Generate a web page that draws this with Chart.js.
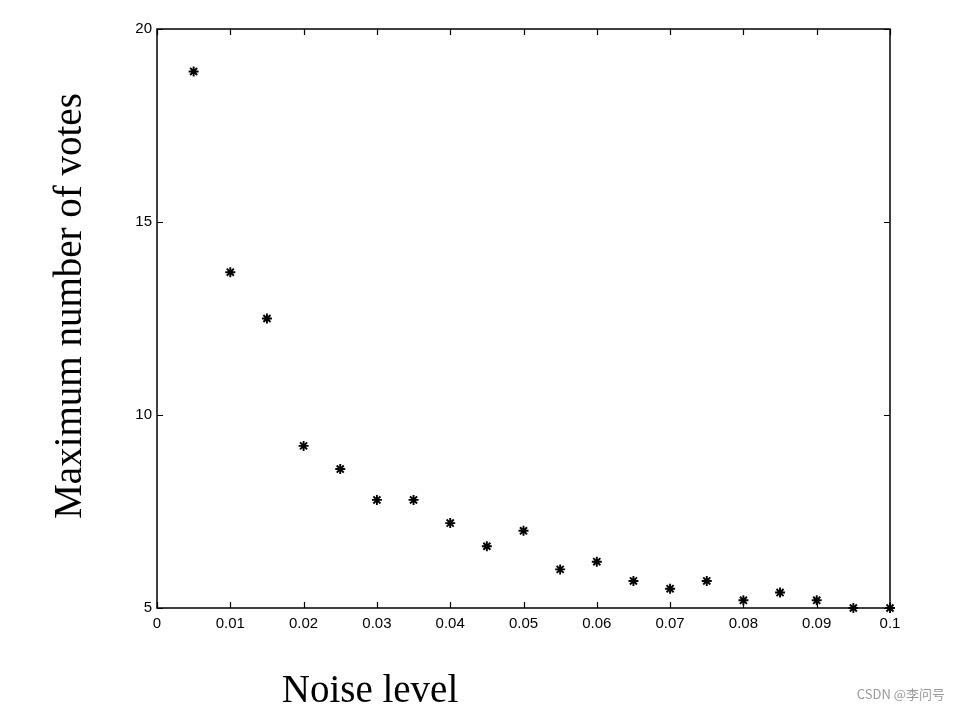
<!DOCTYPE html>
<html>
<head>
<meta charset="utf-8">
<script src="https://cdn.jsdelivr.net/npm/chart.js@4.4.1/dist/chart.umd.min.js"></script>
<style>
html,body{margin:0;padding:0;background:#fff;}
#wrap{width:960px;height:711px;position:relative;}
</style>
</head>
<body>
<div id="wrap"><canvas id="c" width="960" height="711"></canvas></div>
<script>
const noiseLevels = [0.005,0.01,0.015,0.02,0.025,0.03,0.035,0.04,0.045,0.05,0.055,0.06,0.065,0.07,0.075,0.08,0.085,0.09,0.095,0.1];
const maxVotes    = [18.9,13.7,12.5,9.2,8.6,7.8,7.8,7.2,6.6,7.0,6.0,6.2,5.7,5.5,5.7,5.2,5.4,5.2,5.0,5.0];
const xTickValues = [0,0.01,0.02,0.03,0.04,0.05,0.06,0.07,0.08,0.09,0.1];
const xTickLabels = ['0','0.01','0.02','0.03','0.04','0.05','0.06','0.07','0.08','0.09','0.1'];
const yTickValues = [5,10,15,20];
const yTickLabels = ['5','10','15','20'];
const xTitle = 'Noise level';
const yTitle = 'Maximum number of votes';
const watermark = 'CSDN @李问号';

const frame = {
  id: 'frame',
  afterDraw(chart) {
    const {ctx, chartArea: a, scales: {x, y}} = chart;
    ctx.save();
    ctx.strokeStyle = '#000';
    ctx.lineWidth = 1.5;
    ctx.strokeRect(a.left, a.top, a.right - a.left, a.bottom - a.top);
    ctx.lineWidth = 1.2;
    const tl = 6;
    ctx.beginPath();
    xTickValues.forEach(v => {
      const px = Math.round(x.getPixelForValue(v)) + 0.5;
      ctx.moveTo(px, a.bottom); ctx.lineTo(px, a.bottom - tl);
      ctx.moveTo(px, a.top); ctx.lineTo(px, a.top + tl);
    });
    yTickValues.forEach(v => {
      const py = Math.round(y.getPixelForValue(v)) + 0.5;
      ctx.moveTo(a.left, py); ctx.lineTo(a.left + tl, py);
      ctx.moveTo(a.right, py); ctx.lineTo(a.right - tl, py);
    });
    ctx.stroke();
    // axis titles
    ctx.fillStyle = '#000';
    ctx.font = '39px "Liberation Serif", "Times New Roman", serif';
    ctx.textAlign = 'center';
    ctx.textBaseline = 'middle';
    ctx.fillText(xTitle, 370, 692);
    ctx.save();
    ctx.translate(71, 306);
    ctx.rotate(-Math.PI / 2);
    ctx.fillText(yTitle, 0, 0);
    ctx.restore();
    // watermark
    ctx.fillStyle = '#9a9a9a';
    ctx.font = '13px "Noto Sans CJK SC", "Liberation Sans", sans-serif';
    ctx.textAlign = 'right';
    ctx.fillText(watermark, 945, 694);
    ctx.restore();
  }
};

new Chart(document.getElementById('c'), {
  type: 'scatter',
  data: {
    datasets: [{
      data: noiseLevels.map((v, i) => ({x: v, y: maxVotes[i]})),
      pointStyle: 'star',
      radius: 5,
      borderColor: '#000',
      backgroundColor: '#000',
      borderWidth: 1.9,
      clip: false
    }]
  },
  options: {
    responsive: false,
    animation: false,
    layout: {padding: {left: 0, top: 29, right: 70, bottom: 0}},
    plugins: {legend: {display: false}, tooltip: {enabled: false}},
    scales: {
      x: {
        type: 'linear', min: 0, max: 0.1,
        afterBuildTicks: s => { s.ticks = xTickValues.map(v => ({value: v})); },
        afterFit: s => { s.height = 103; },
        grid: {display: false, drawTicks: false},
        border: {display: false},
        ticks: {
          padding: 7, color: '#000', maxRotation: 0, autoSkip: false,
          font: {family: '"Liberation Sans", Arial, sans-serif', size: 15},
          callback: (v, i) => xTickLabels[i]
        }
      },
      y: {
        type: 'linear', min: 5, max: 20,
        afterBuildTicks: s => { s.ticks = yTickValues.map(v => ({value: v})); },
        afterFit: s => { s.width = 157; },
        grid: {display: false, drawTicks: false},
        border: {display: false},
        ticks: {
          padding: 5, color: '#000',
          font: {family: '"Liberation Sans", Arial, sans-serif', size: 15},
          callback: (v, i) => yTickLabels[i]
        }
      }
    }
  },
  plugins: [frame]
});
</script>
</body>
</html>
